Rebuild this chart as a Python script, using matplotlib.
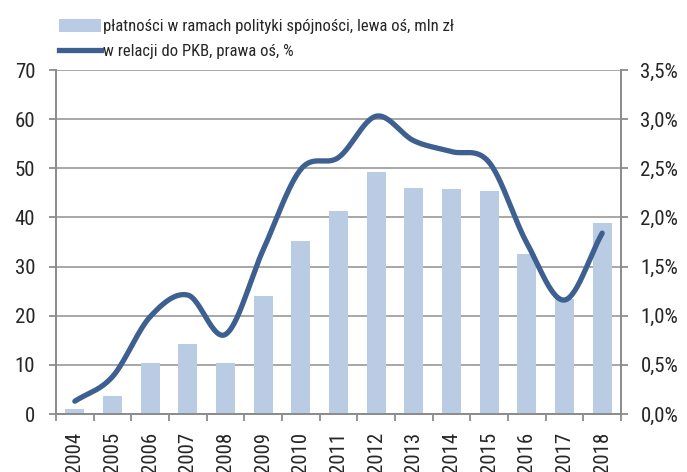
import numpy as np
import matplotlib
matplotlib.use("Agg")
import matplotlib.pyplot as plt
from matplotlib import font_manager as fm
from matplotlib.patches import Patch
from matplotlib.lines import Line2D

years = ["2004", "2005", "2006", "2007", "2008", "2009", "2010", "2011",
         "2012", "2013", "2014", "2015", "2016", "2017", "2018"]
payments = [1.1, 3.7, 10.4, 14.3, 10.3, 24.0, 35.3, 41.4,
            49.3, 45.9, 45.7, 45.3, 32.5, 23.3, 38.9]
gdp_share = [0.13, 0.38, 0.99, 1.21, 0.81, 1.67, 2.49, 2.61,
             3.03, 2.78, 2.67, 2.56, 1.74, 1.16, 1.84]
left_ticks = [0, 10, 20, 30, 40, 50, 60, 70]
right_ticks = [0.0, 0.5, 1.0, 1.5, 2.0, 2.5, 3.0, 3.5]
bar_label = "płatności w ramach polityki spójności, lewa oś, mln zł"
line_label = "w relacji do PKB, prawa oś, %"

avail = {f.name for f in fm.fontManager.ttflist}
fam = "Liberation Sans"
for cand in ["Liberation Sans Narrow", "Roboto Condensed", "Open Sans Condensed"]:
    if cand in avail:
        fam = cand
        break
plt.rcParams["font.family"] = [fam, "DejaVu Sans"]

bar_color = "#b9cce4"
line_color = "#3d6090"
grid_color = "#a0a0a0"
spine_color = "#8c8c8c"
text_color = "#262626"
fs = 15

fig = plt.figure(figsize=(6.87, 4.72), dpi=100)
ax = fig.add_axes([56/687, 1-414/472, (621-56)/687, (414-70)/472])
ax2 = ax.twinx()

x = np.arange(len(years))
ax.bar(x, payments, width=0.5, color=bar_color, zorder=2)
ax.set_xlim(-0.5, len(years)-0.5)
ax.set_ylim(0, 70)
ax.set_yticks(left_ticks)
ax.set_yticklabels([str(t) for t in left_ticks])
ax.yaxis.grid(True, color=grid_color, linewidth=1.3, zorder=0)
ax.set_axisbelow(True)

ax.set_xticks(x)
ax.set_xticklabels(years, rotation=90)
ax.set_xticks(np.arange(len(years)+1) - 0.5, minor=True)
ax.tick_params(axis="x", which="major", length=0, pad=13, labelsize=fs, colors=text_color)
ax.tick_params(axis="x", which="minor", length=5, width=1.3, color=spine_color, direction="out")
ax.tick_params(axis="y", length=5, width=1.3, color=spine_color, labelsize=fs, labelcolor=text_color, pad=10)

# Catmull-Rom smoothing of line through data points
pts = np.column_stack([x, gdp_share]).astype(float)
P = np.vstack([pts[0] - (pts[1]-pts[0]), pts, pts[-1] + (pts[-1]-pts[-2])])
curve = []
for i in range(1, len(P)-2):
    p0, p1, p2, p3 = P[i-1], P[i], P[i+1], P[i+2]
    for t in np.linspace(0, 1, 30, endpoint=False):
        t2, t3 = t*t, t*t*t
        c = 0.5*((2*p1) + (-p0+p2)*t + (2*p0-5*p1+4*p2-p3)*t2 + (-p0+3*p1-3*p2+p3)*t3)
        curve.append(c)
curve.append(pts[-1])
curve = np.array(curve)
ax2.plot(curve[:, 0], curve[:, 1], color=line_color, linewidth=3.8, solid_capstyle="round", zorder=3)
ax2.set_ylim(0, 3.5)
ax2.set_yticks(right_ticks)
ax2.set_yticklabels([f"{t:.1f}%".replace(".", ",") for t in right_ticks])
ax2.tick_params(axis="y", length=5, width=1.3, color=spine_color, labelsize=fs, labelcolor=text_color, pad=9)

for a in (ax, ax2):
    a.spines["top"].set_visible(False)
    for s in ("left", "right", "bottom"):
        a.spines[s].set_color(spine_color)
        a.spines[s].set_linewidth(1.3)

handles = [Patch(facecolor=bar_color, edgecolor="none", label=bar_label),
           Line2D([0], [0], color=line_color, linewidth=3.8, label=line_label)]
fig.legend(handles=handles, loc="upper left", bbox_to_anchor=(44/687, 1-4/472),
           frameon=False, fontsize=12, handlelength=2.5, handleheight=0.85,
           handletextpad=0.15, labelspacing=0.55, labelcolor=text_color)

fig.savefig("out.png", dpi=100)
